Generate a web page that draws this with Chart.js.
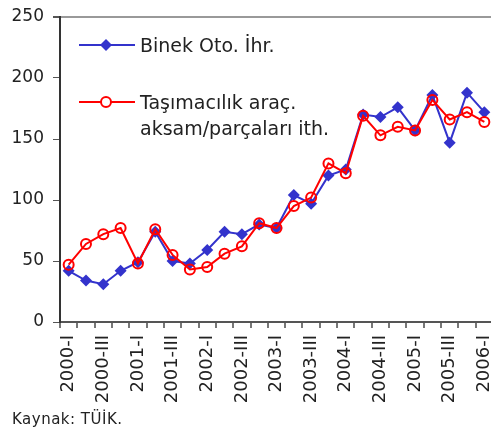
<!DOCTYPE html>
<html>
<head>
<meta charset="utf-8">
<script src="https://cdn.jsdelivr.net/npm/chart.js@4"></script>
<style>
  body { margin: 0; background: #fff; overflow: hidden; }
  #wrap { position: relative; width: 500px; height: 432px; }
  #legend { position: absolute; left: 0; top: 0; font-family: "DejaVu Sans", sans-serif; font-size: 19px; color: #222; }
  .lt { position: absolute; left: 140px; white-space: nowrap; line-height: 26px; }
  #src { position: absolute; left: 12px; top: 410px; font-family: "DejaVu Sans", sans-serif; font-size: 15px; color: #222; letter-spacing: 0.5px; }
</style>
</head>
<body>
<div id="wrap">
  <canvas id="c" width="500" height="415"></canvas>
  <div id="legend">
    <svg style="position:absolute;left:0;top:0" width="200" height="140">
      <line x1="79" y1="45" x2="135" y2="45" stroke="#3333CC" stroke-width="2"/>
      <polygon points="106,39 112,45 106,51 100,45" fill="#3333CC"/>
      <line x1="79" y1="102" x2="135" y2="102" stroke="#FF0000" stroke-width="2"/>
      <circle cx="106" cy="102" r="5" fill="#fff" stroke="#FF0000" stroke-width="2"/>
    </svg>
    <div class="lt" style="top:32px">Binek Oto. İhr.</div>
    <div class="lt" style="top:89px">Taşımacılık araç.<br>aksam/parçaları ith.</div>
  </div>
  <div id="src">Kaynak: TÜİK.</div>
</div>
<script>
// quarters 2000-I .. 2006-I
const quarters = ['2000-I','2000-II','2000-III','2000-IV','2001-I','2001-II','2001-III','2001-IV',
  '2002-I','2002-II','2002-III','2002-IV','2003-I','2003-II','2003-III','2003-IV',
  '2004-I','2004-II','2004-III','2004-IV','2005-I','2005-II','2005-III','2005-IV','2006-I'];
const binekOto = [42, 34, 31, 42, 49, 74, 50, 48, 59, 74, 72, 80, 77, 104, 97, 120, 125, 170, 168, 176, 157, 186, 147, 188, 172];
const tasimacilik = [47, 64, 72, 77, 48, 76, 55, 43, 45, 56, 62, 81, 77, 95, 102, 130, 122, 169, 153, 160, 157, 182, 166, 172, 164];
const yTicks = [0, 50, 100, 150, 200, 250];

const font = 'DejaVu Sans';

new Chart(document.getElementById('c'), {
  type: 'line',
  data: {
    labels: quarters,
    datasets: [{
      label: 'Binek Oto. İhr.',
      data: binekOto,
      borderColor: '#3333CC',
      backgroundColor: '#3333CC',
      borderWidth: 2,
      pointStyle: 'rectRot',
      pointRadius: 6,
      pointBorderWidth: 0,
      order: 2
    }, {
      label: 'Taşımacılık araç. aksam/parçaları ith.',
      data: tasimacilik,
      borderColor: '#FF0000',
      backgroundColor: 'transparent',
      borderWidth: 2,
      pointStyle: 'circle',
      pointRadius: 5,
      pointBorderWidth: 2,
      order: 1
    }]
  },
  options: {
    responsive: false,
    devicePixelRatio: 1,
    animation: false,
    layout: { padding: { top: 17, right: 2, left: 0, bottom: 0 } },
    plugins: { legend: { display: false }, tooltip: { enabled: false } },
    elements: { line: { tension: 0 } },
    scales: {
      x: {
        offset: true,
        afterFit: s => { s.height = 93; s.paddingLeft = 0; s.paddingRight = 0; },
        border: { color: '#555', width: 2 },
        grid: { offset: true, drawOnChartArea: false, tickLength: 6, tickColor: '#777', lineWidth: 2 },
        ticks: {
          autoSkip: false, maxRotation: 90, minRotation: 90, padding: 7,
          color: '#222', font: { family: font, size: 18 },
          callback: function (v, i) { return i % 2 === 0 ? this.getLabelForValue(v) : ''; }
        }
      },
      y: {
        min: 0, max: 250,
        afterFit: s => { s.width = 60; s.paddingTop = 0; s.paddingBottom = 0; },
        afterBuildTicks: s => { s.ticks = yTicks.map(v => ({ value: v })); },
        border: { color: '#333', width: 2 },
        grid: {
          color: c => c.tick && c.tick.value === 250 ? '#999' : 'transparent',
          lineWidth: c => c.tick && c.tick.value === 250 ? 2 : 1,
          tickColor: '#555', tickLength: 7
        },
        ticks: { padding: 9, color: '#222', font: { family: font, size: 17 } }
      }
    }
  }
});
</script>
</body>
</html>
